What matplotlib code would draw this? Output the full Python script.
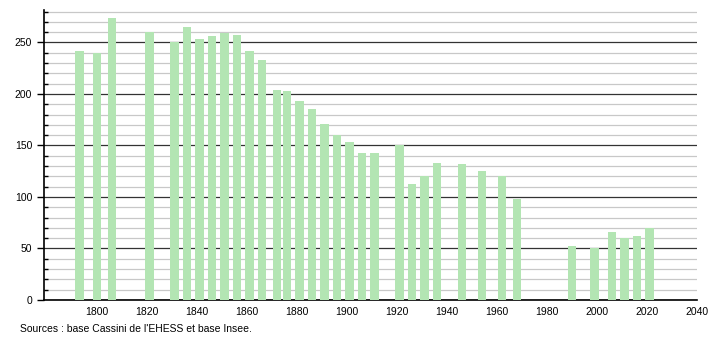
import matplotlib
matplotlib.use("Agg")
import matplotlib.pyplot as plt
from matplotlib.ticker import MultipleLocator

years = [1793, 1800, 1806, 1821, 1831, 1836, 1841, 1846, 1851, 1856, 1861, 1866,
         1872, 1876, 1881, 1886, 1891, 1896, 1901, 1906, 1911, 1921, 1926, 1931,
         1936, 1946, 1954, 1962, 1968, 1990, 1999, 2006, 2011, 2016, 2021]
population = [242, 240, 274, 260, 250, 265, 253, 256, 259, 257, 242, 233,
              204, 203, 193, 185, 171, 160, 153, 143, 143, 150, 113, 120,
              133, 132, 125, 120, 98, 52, 50, 66, 60, 62, 70]
xticks = [1800, 1820, 1840, 1860, 1880, 1900, 1920, 1940, 1960, 1980, 2000, 2020, 2040]
yticks = [0, 50, 100, 150, 200, 250]
source = "Sources : base Cassini de l'EHESS et base Insee."

plt.rcParams['font.family'] = ['Liberation Sans', 'DejaVu Sans']
fig = plt.figure(figsize=(7.1, 3.4), dpi=100)
ax = fig.add_axes([44/710, 40/340, (697-44)/710, 290/340])

ax.bar(years, population, width=3.3, color='#b3e5b3', zorder=3)

ax.set_xlim(1778.8, 2040)
ax.set_ylim(0, 281.5)
ax.set_xticks(xticks)
ax.set_yticks(yticks)
ax.yaxis.set_minor_locator(MultipleLocator(10))
ax.grid(axis='y', which='major', color='#333333', linewidth=0.9, zorder=1)
ax.grid(axis='y', which='minor', color='#c8c8c8', linewidth=0.9, zorder=0)
ax.tick_params(axis='x', length=0, labelsize=7.5, pad=5)
ax.tick_params(axis='y', which='major', length=5, width=1, labelsize=7.5, direction='out')
ax.tick_params(axis='y', which='minor', length=3, width=1, direction='in')
for s in ['top', 'right']:
    ax.spines[s].set_visible(False)
ax.spines['left'].set_linewidth(1.2)
ax.spines['bottom'].set_linewidth(1.2)

fig.text(20/710, 1 - 329/340, source, fontsize=7.5, va='center', ha='left')
fig.savefig('out.png', dpi=100)
